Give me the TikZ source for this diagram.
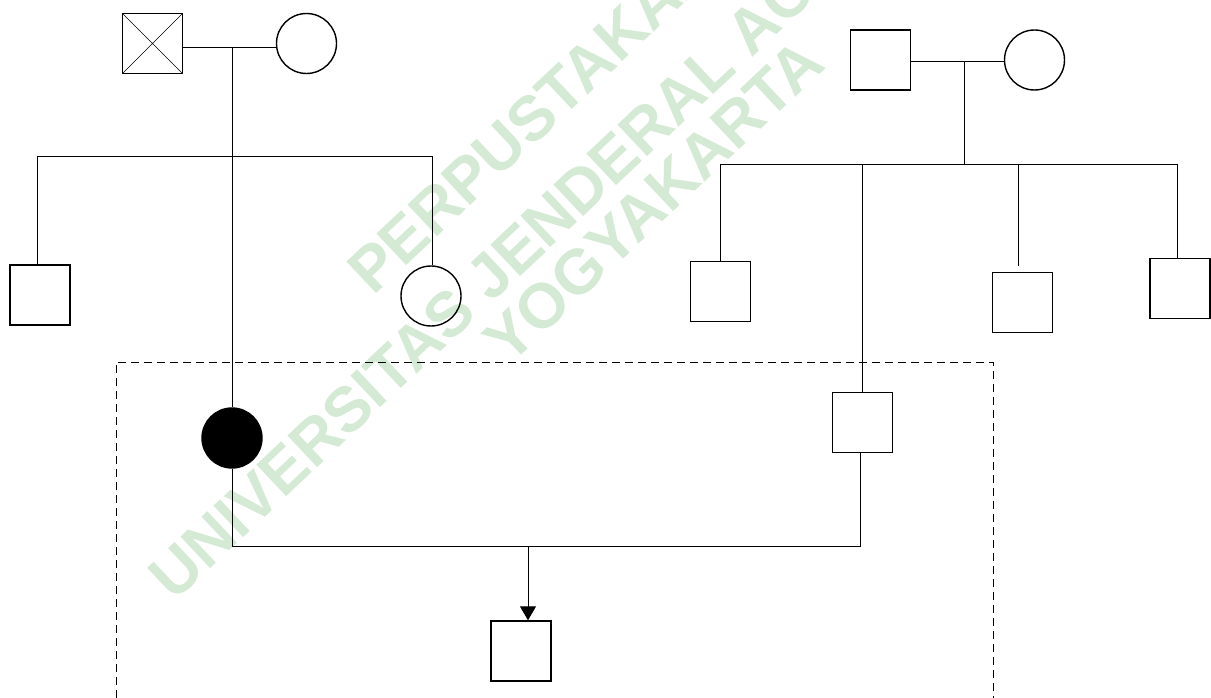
\documentclass[tikz,border=0pt]{standalone}
\usepackage{fontspec}
\newfontfamily\wmfont{Liberation Sans}
\usetikzlibrary{arrows.meta}
\definecolor{wmgreen}{RGB}{212,234,212}
\begin{document}
\begin{tikzpicture}[x=1pt,y=-1pt,
  person/.style={draw, inner sep=0pt, line width=1.4pt, minimum size=60pt},
  male/.style={person, rectangle},
  female/.style={person, circle},
  dead/.style={male, path picture={\draw[line width=0.7pt]
      (path picture bounding box.north west) -- (path picture bounding box.south east)
      (path picture bounding box.south west) -- (path picture bounding box.north east);}},
  patient/.style={female, fill=black},
  link/.style={draw, line width=0.9pt},
  household/.style={draw, line width=0.9pt, dash pattern=on 8pt off 5pt},
  wm/.style={text=wmgreen, inner sep=0pt, anchor=base west, rotate=43.3,
      font=\wmfont\bfseries\fontsize{63}{63}\selectfont}]
\useasboundingbox (0,0) rectangle (1211,698);

% watermark
\node[wm] (wma) at (373,297) {PERPUSTAKAAN};
\node[wm] (wmb) at (174,603) {UNIVERSITAS JENDERAL ACHMAD YANI};
\node[wm] (wmc) at (509,367) {YOGYAKARTA};

% left family
\node[dead]   (f1) at (152.5,43.5) {};
\node[female] (m1) at (306.5,43.5) {};
\coordinate (mid1) at (232.5,47.5);
\coordinate (sl1) at (37.5,156);
\coordinate (sr1) at (432,156);
\node[male]   (c1) at (40,295) {};
\node[female] (c2) at (431,296) {};
\node[patient] (p1) at (232,438) {};

% right family
\node[male]   (f2) at (880.5,60) {};
\node[female] (m2) at (1034.5,60) {};
\coordinate (mid2) at (964,61.5);
\coordinate (sl2) at (720,164);
\coordinate (sr2) at (1178,164);
\node[male] (c4) at (720.5,291.5) {};
\node[male] (c5) at (1022.5,302.5) {};
\node[male] (c6) at (1180,288.5) {};
\node[male] (h1) at (862.5,422.5) {};
\coordinate (d5) at (1018.5,266);
\coordinate (d6) at (1177.5,164);
\coordinate (dh) at (862,164);

% couple
\coordinate (cl) at (232,546);
\coordinate (cr) at (860.5,546);
\coordinate (cm) at (528,546);
\node[male] (c3) at (521,651) {};

% household boundary
\coordinate (hb1) at (116,698);
\coordinate (hb2) at (116,362);
\coordinate (hb3) at (993,362);
\coordinate (hb4) at (993,698);
\path[household] (hb1) -- (hb2) -- (hb3) -- (hb4);

% connectors left family
\path[link] (f1.east |- mid1) -- (m1.west |- mid1);
\path[link] (mid1) -- (mid1 |- p1.north);
\path[link] (sl1) -- (sr1);
\path[link] (sl1) -- (sl1 |- c1.north);
\path[link] (sr1) -- (sr1 |- c2.north);

% connectors right family
\path[link] (f2.east |- mid2) -- (m2.west |- mid2);
\path[link] (mid2) -- (mid2 |- sl2);
\path[link] (sl2) -- (sr2);
\path[link] (sl2) -- (sl2 |- c4.north);
\path[link] (d5 |- sl2) -- (d5);
\path[link] (d6) -- (d6 |- c6.north);
\path[link] (dh) -- (dh |- h1.north);

% couple and child
\path[link] (p1.south) -- (cl) -- (cr) -- (cr |- h1.south);
\path[link, -{Triangle[length=14pt,width=16pt]}] (cm) -- (cm |- c3.north);
\end{tikzpicture}
\end{document}
